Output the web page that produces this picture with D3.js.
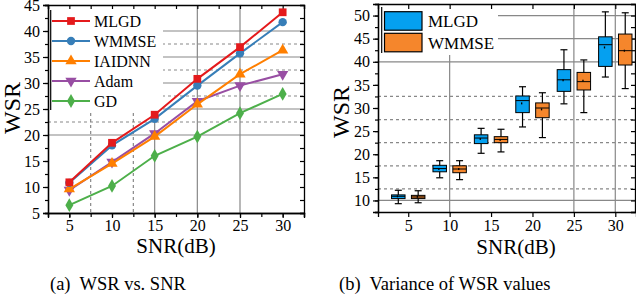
<!DOCTYPE html>
<html lang="en">
<head>
<meta charset="utf-8">
<title>WSR vs SNR</title>
<script src="https://cdn.jsdelivr.net/npm/d3@7"></script>
<style>
  body { margin: 0; background: #fff; }
  svg text { font-family: "Liberation Serif", "DejaVu Serif", serif; fill: #000; }
</style>
</head>
<body>
<script>
// ---- data (left: WSR vs SNR) ----
var snr = [5, 10, 15, 20, 25, 30];
var mlgd   = [10.9, 18.5, 23.9, 30.8, 36.9, 43.6];
var wmmse  = [10.8, 18.0, 23.1, 29.5, 35.7, 41.7];
var iaidnn = [9.6, 14.5, 19.7, 25.9, 31.7, 36.3];
var adam   = [9.4, 14.8, 20.3, 26.5, 29.5, 31.7];
var gd     = [6.5, 10.2, 16.0, 19.7, 24.2, 27.9];
var lineNames = ["MLGD", "WMMSE", "IAIDNN", "Adam", "GD"];

// ---- data (right: box plots, [min, q1, median, q3, max], mean) ----
var boxMlgd = [
  [9.3, 10.4, 10.9, 11.2, 12.2],
  [14.9, 16.2, 16.9, 17.6, 18.6],
  [20.2, 22.3, 23.5, 24.2, 25.6],
  [25.9, 29.0, 31.6, 32.6, 34.6],
  [30.9, 33.6, 36.1, 38.3, 42.6],
  [36.7, 39.0, 43.7, 45.4, 50.8]
];
var meanMlgd = [10.9, 16.8, 23.3, 31.0, 36.0, 43.1];
var boxWmmse = [
  [9.5, 10.4, 10.75, 11.1, 12.1],
  [14.5, 16.0, 16.8, 17.5, 18.6],
  [20.5, 22.5, 23.2, 23.8, 25.4],
  [23.6, 27.9, 30.0, 31.1, 33.3],
  [29.0, 33.9, 35.7, 37.7, 40.4],
  [34.2, 39.3, 42.4, 46.0, 50.6]
];
var meanWmmse = [10.8, 16.8, 23.1, 29.7, 35.9, 42.4];
var boxNames = ["MLGD", "WMMSE"];

var yTicksA = [5, 10, 15, 20, 25, 30, 35, 40, 45];
var yTicksB = [10, 15, 20, 25, 30, 35, 40, 45, 50];

var w = 636, h = 298;
var svg = d3.select("body").append("svg").attr("width", w).attr("height", h);

// ================= left chart =================
var xA = d3.scaleLinear().domain([2.5, 32.5]).range([48, 304]);
var yA = d3.scaleLinear().domain([5, 45]).range([213, 5]);
var gA = svg.append("g");

// grid (partial, as in the figure)
[20, 25, 30, 35, 40].forEach(function (v) {
  gA.append("line").attr("x1", 48).attr("x2", 304).attr("y1", yA(v)).attr("y2", yA(v))
    .attr("stroke", "#888").attr("stroke-width", 1.2);
});
[22.5, 27.5, 32.5, 37.5].forEach(function (v) {
  gA.append("line").attr("x1", 48).attr("x2", 304).attr("y1", yA(v)).attr("y2", yA(v))
    .attr("stroke", "#888").attr("stroke-width", 1.2).attr("stroke-dasharray", "3,3");
});
[15, 20, 25].forEach(function (v) {
  gA.append("line").attr("x1", xA(v)).attr("x2", xA(v)).attr("y1", 5).attr("y2", 213)
    .attr("stroke", "#888").attr("stroke-width", 1.2);
});
[7.5, 12.5].forEach(function (v) {
  gA.append("line").attr("x1", xA(v)).attr("x2", xA(v)).attr("y1", 5).attr("y2", 213)
    .attr("stroke", "#888").attr("stroke-width", 1.2).attr("stroke-dasharray", "3,3");
});

// legend background (covers grid)
gA.append("rect").attr("x", 49).attr("y", 6).attr("width", 114).attr("height", 106).attr("fill", "#fff");

// axes
function styleAxis(g) {
  g.select(".domain").attr("stroke", "#000").attr("stroke-width", 1.3);
  g.selectAll(".tick line").attr("stroke", "#000").attr("stroke-width", 1.2);
  g.selectAll("text").attr("font-family", "Liberation Serif").attr("font-size", "16px").attr("fill", "#000");
}
var minorA_y = d3.range(5, 45.01, 2.5);
var minorA_x = d3.range(2.5, 32.51, 2.5);

gA.append("g").attr("transform", "translate(48,0)")
  .call(d3.axisLeft(yA).tickValues(minorA_y).tickSize(3).tickFormat(""))
  .call(styleAxis);
gA.append("g").attr("transform", "translate(48,0)")
  .call(d3.axisLeft(yA).tickValues(yTicksA).tickSize(5).tickPadding(3).tickFormat(d3.format("d")))
  .call(styleAxis);
gA.append("g").attr("transform", "translate(304,0)")
  .call(d3.axisLeft(yA).tickValues(minorA_y).tickSize(4).tickFormat(""))
  .call(styleAxis);
gA.append("g").attr("transform", "translate(0,213)")
  .call(d3.axisBottom(xA).tickValues(minorA_x).tickSize(4).tickFormat(""))
  .call(styleAxis);
gA.append("g").attr("transform", "translate(0,213)")
  .call(d3.axisBottom(xA).tickValues(snr).tickSize(5).tickPadding(2).tickFormat(d3.format("d")))
  .call(styleAxis);
gA.append("g").attr("transform", "translate(0,5)")
  .call(d3.axisBottom(xA).tickValues(minorA_x).tickSize(4).tickFormat(""))
  .call(styleAxis);

// lines
var seriesA = [mlgd, wmmse, iaidnn, adam, gd];
var colorsA = ["#e41a1c", "#377eb8", "#ff7f00", "#984ea3", "#4daf4a"];
var symA = [
  { t: d3.symbolSquare, s: 60, r: 0 },
  { t: d3.symbolCircle, s: 55, r: 0 },
  { t: d3.symbolTriangle, s: 55, r: 0 },
  { t: d3.symbolTriangle, s: 55, r: 180 },
  { t: d3.symbolDiamond, s: 55, r: 0 }
];
var line = d3.line().x(function (d, i) { return xA(snr[i]); }).y(function (d) { return yA(d); });

// draw from back to front so MLGD is on top
for (var k = seriesA.length - 1; k >= 0; k--) {
  gA.append("path").datum(seriesA[k]).attr("d", line)
    .attr("fill", "none").attr("stroke", colorsA[k]).attr("stroke-width", 2);
  gA.selectAll(".m" + k).data(seriesA[k]).enter().append("path")
    .attr("class", "m" + k)
    .attr("d", d3.symbol().type(symA[k].t).size(symA[k].s))
    .attr("transform", function (d, i) {
      return "translate(" + xA(snr[i]) + "," + yA(d) + ") rotate(" + symA[k].r + ")";
    })
    .attr("fill", colorsA[k]);
}

// legend
gA.append("line").attr("x1", 50.7).attr("x2", 50.7).attr("y1", 10).attr("y2", 110)
  .attr("stroke", "#000").attr("stroke-width", 1.2);
lineNames.forEach(function (name, i) {
  var ly = 21 + i * 20;
  gA.append("line").attr("x1", 52).attr("x2", 90).attr("y1", ly).attr("y2", ly)
    .attr("stroke", colorsA[i]).attr("stroke-width", 2);
  gA.append("path").attr("d", d3.symbol().type(symA[i].t).size(symA[i].s))
    .attr("transform", "translate(71," + ly + ") rotate(" + symA[i].r + ")")
    .attr("fill", colorsA[i]);
  gA.append("text").attr("x", 94).attr("y", ly + 6).attr("font-size", "16px").text(name);
});

// labels
gA.append("text").attr("transform", "translate(20,108) rotate(-90)")
  .attr("text-anchor", "middle").attr("font-size", "24px").text("WSR");
gA.append("text").attr("x", 176).attr("y", 253)
  .attr("text-anchor", "middle").attr("font-size", "21px").text("SNR(dB)");
gA.append("text").attr("x", 50).attr("y", 290)
  .attr("font-size", "18.5px").attr("xml:space", "preserve").text("(a)  WSR vs. SNR");

// ================= right chart =================
var xB = d3.scaleLinear().domain([1.35, 32.5]).range([378, 636]);
var yB = d3.scaleLinear().domain([7.5, 52.5]).range([212, 4]);
var gB = svg.append("g");

[10, 40, 45, 50].forEach(function (v) {
  gB.append("line").attr("x1", 378).attr("x2", 636).attr("y1", yB(v)).attr("y2", yB(v))
    .attr("stroke", "#888").attr("stroke-width", 1.2);
});
[12.5, 17.5, 22.5, 27.5, 32.5].forEach(function (v) {
  gB.append("line").attr("x1", 378).attr("x2", 636).attr("y1", yB(v)).attr("y2", yB(v))
    .attr("stroke", "#888").attr("stroke-width", 1.2).attr("stroke-dasharray", "3,3");
});
[10, 25, 30].forEach(function (v) {
  gB.append("line").attr("x1", xB(v)).attr("x2", xB(v)).attr("y1", 4).attr("y2", 212)
    .attr("stroke", "#888").attr("stroke-width", 1.2);
});
gB.append("rect").attr("x", 379).attr("y", 5).attr("width", 119).attr("height", 50).attr("fill", "#fff");

var minorB_y = d3.range(7.5, 52.51, 2.5);
gB.append("g").attr("transform", "translate(378,0)")
  .call(d3.axisLeft(yB).tickValues(minorB_y).tickSize(3).tickFormat(""))
  .call(styleAxis);
gB.append("g").attr("transform", "translate(378,0)")
  .call(d3.axisLeft(yB).tickValues(yTicksB).tickSize(5).tickPadding(3).tickFormat(d3.format("d")))
  .call(styleAxis);
gB.append("g").attr("transform", "translate(635,0)")
  .call(d3.axisLeft(yB).tickValues(minorB_y).tickSize(4).tickFormat(""))
  .call(styleAxis);
gB.append("g").attr("transform", "translate(0,212)")
  .call(d3.axisBottom(xB).tickValues(snr).tickSize(5).tickPadding(3).tickFormat(d3.format("d")))
  .call(styleAxis);
gB.append("g").attr("transform", "translate(0,4)")
  .call(d3.axisBottom(xB).tickValues(snr).tickSize(5).tickFormat(""))
  .call(styleAxis);

// boxes
var colorsB = ["#05a0f0", "#f5862c"];
var offsets = [-1.2, 1.2];
var bw = 13.5;
[boxMlgd, boxWmmse].forEach(function (boxes, s) {
  var means = s === 0 ? meanMlgd : meanWmmse;
  var g = gB.selectAll(".box" + s).data(boxes).enter().append("g").attr("class", "box" + s);
  function cx(i) { return xB(snr[i] + offsets[s]); }
  g.append("line").attr("x1", function (d, i) { return cx(i); }).attr("x2", function (d, i) { return cx(i); })
    .attr("y1", function (d) { return yB(d[0]); }).attr("y2", function (d) { return yB(d[4]); })
    .attr("stroke", "#000").attr("stroke-width", 1.2);
  [0, 4].forEach(function (j) {
    g.append("line")
      .attr("x1", function (d, i) { return cx(i) - 3.5; }).attr("x2", function (d, i) { return cx(i) + 3.5; })
      .attr("y1", function (d) { return yB(d[j]); }).attr("y2", function (d) { return yB(d[j]); })
      .attr("stroke", "#000").attr("stroke-width", 1.2);
  });
  g.append("rect")
    .attr("x", function (d, i) { return cx(i) - bw / 2; })
    .attr("y", function (d) { return yB(d[3]); })
    .attr("width", bw)
    .attr("height", function (d) { return yB(d[1]) - yB(d[3]); })
    .attr("fill", colorsB[s]).attr("stroke", "#000").attr("stroke-width", 1);
  g.append("line")
    .attr("x1", function (d, i) { return cx(i) - bw / 2; }).attr("x2", function (d, i) { return cx(i) + bw / 2; })
    .attr("y1", function (d) { return yB(d[2]); }).attr("y2", function (d) { return yB(d[2]); })
    .attr("stroke", "#000").attr("stroke-width", 1);
  g.append("rect")
    .attr("x", function (d, i) { return cx(i) - 1.5; })
    .attr("y", function (d, i) { return yB(means[i]) - 1; })
    .attr("width", 1.3).attr("height", 2).attr("fill", "#000");
});

// legend
gB.append("line").attr("x1", 381.7).attr("x2", 381.7).attr("y1", 7).attr("y2", 53)
  .attr("stroke", "#000").attr("stroke-width", 1.2);
boxNames.forEach(function (name, i) {
  var ty = 11.7 + i * 21.6;
  gB.append("rect").attr("x", 384.5).attr("y", ty).attr("width", 37.5).attr("height", 18.5)
    .attr("fill", colorsB[i]).attr("stroke", "#000").attr("stroke-width", 1.2);
  gB.append("text").attr("x", 428).attr("y", ty + 15.5).attr("font-size", "17px").text(name);
});

gB.append("text").attr("transform", "translate(349,112) rotate(-90)")
  .attr("text-anchor", "middle").attr("font-size", "24px").text("WSR");
gB.append("text").attr("x", 516).attr("y", 254)
  .attr("text-anchor", "middle").attr("font-size", "21px").text("SNR(dB)");
gB.append("text").attr("x", 339).attr("y", 290)
  .attr("font-size", "18.5px").attr("xml:space", "preserve").text("(b)  Variance of WSR values");
</script>
</body>
</html>
